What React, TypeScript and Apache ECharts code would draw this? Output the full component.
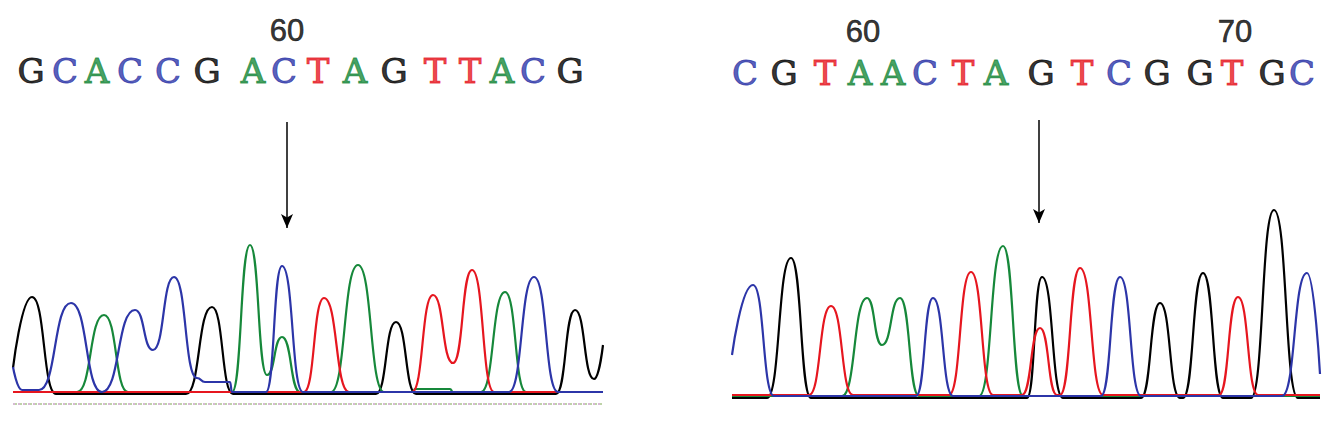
import React, { useEffect, useRef } from 'react';
import * as echarts from 'echarts';

// Base colours used by the sequencer: A green, C blue, G black, T red
const BASE_COLORS: Record<string, string> = {
  A: '#16883a',
  C: '#2c35a8',
  G: '#000000',
  T: '#e6161f',
};

// ---------- Left trace (scan position, signal intensity) ----------
const leftCalls = ['G', 'C', 'A', 'C', 'C', 'G', 'A', 'C', 'T', 'A', 'G', 'T', 'T', 'A', 'C', 'G'];
const leftCallPos = [18, 52, 84, 117, 155, 194, 240, 271, 305, 342, 381, 422, 457, 489, 520, 557];
const leftNumbered = [{ index: 7, label: '60' }];
const leftMutationPos = 274;

const leftG = [[0, 24], [19, 95], [43, -2], [173, -2], [199, 85], [220, -2], [363, -2], [383, 70], [403, -2], [543, -2], [562, 82], [581, 13], [590, 47]];
const leftC = [[0, 25], [9, 2], [26, 2], [58, 89], [89, 0], [122, 82], [140, 42], [161, 115], [184, 14], [192, 10], [217, 10], [219, 0], [253, 0], [269, 126], [290, 0], [496, 0], [521, 115], [545, 0], [590, 0]];
const leftA = [[0, 0], [64, 0], [91, 77], [115, 0], [219, 0], [237, 147], [254, 17], [269, 55], [287, 0], [318, 0], [345, 127], [371, 0], [400, 0], [402, 3], [437, 3], [440, 0], [468, 0], [492, 100], [513, 0], [590, 0]];
const leftT = [[0, 0], [291, 0], [311, 94], [336, 0], [399, 0], [420, 97], [440, 29], [459, 122], [481, 0], [590, 0]];

// ---------- Right trace ----------
const rightCalls = ['C', 'G', 'T', 'A', 'A', 'C', 'T', 'A', 'G', 'T', 'C', 'G', 'G', 'T', 'G', 'C'];
const rightCallPos = [13, 52, 93, 128, 161, 193, 231, 264, 309, 350, 387, 425, 468, 500, 540, 570];
const rightNumbered = [{ index: 3, label: '60' }, { index: 13, label: '70' }];
const rightMutationPos = 307;

const rightG = [[0, -2], [35, -2], [59, 138], [79, -2], [295, -2], [310, 119], [331, -2], [409, -2], [428, 93], [448, -2], [451, -2], [471, 123], [491, -2], [519, -2], [542, 186], [566, -2], [588, -2]];
const rightC = [[0, 41], [21, 111], [42, 0], [184, 0], [201, 98], [221, 0], [369, 0], [388, 119], [409, 0], [550, 0], [575, 123], [588, 22]];
const rightT = [[0, 1], [77, 1], [99, 90], [121, 1], [217, 1], [239, 124], [261, 1], [290, 1], [308, 68], [325, 1], [328, 1], [348, 128], [371, 1], [487, 1], [506, 99], [526, 1], [588, 1]];
const rightA = [[0, 0], [110, 0], [135, 98], [150, 51], [168, 98], [187, 0], [247, 0], [271, 150], [291, 0], [588, 0]];

// Levels (signal units) of the annotation rows
const callLevel = [321, 323];
const numberLevel = [362, 365];
const arrowFrom = [270, 276];
const arrowTo = [164, 173];
const dotLineLevel = -12;

function traceSeries(data: number[][], base: string, idx: number) {
  return {
    type: 'line',
    xAxisIndex: idx,
    yAxisIndex: idx,
    data,
    symbol: 'none',
    smooth: 0.55,
    smoothMonotone: 'x',
    clip: false,
    lineStyle: { color: BASE_COLORS[base], width: 2.2 },
    z: 2,
  };
}

function panelSeries(
  idx: number,
  traces: { G: number[][]; A: number[][]; T: number[][]; C: number[][] },
  calls: string[],
  callPos: number[],
  numbered: { index: number; label: string }[],
  mutationPos: number,
) {
  const list: any[] = [
    traceSeries(traces.G, 'G', idx),
    traceSeries(traces.A, 'A', idx),
    traceSeries(traces.T, 'T', idx),
    traceSeries(traces.C, 'C', idx),
  ];
  list.push({
    type: 'scatter',
    xAxisIndex: idx,
    yAxisIndex: idx,
    symbolSize: 1,
    itemStyle: { color: 'rgba(0,0,0,0)' },
    data: calls.map((b, i) => ({
      name: b,
      value: [callPos[i], callLevel[idx]],
      label: { color: BASE_COLORS[b], textBorderColor: BASE_COLORS[b] },
    })),
    label: {
      show: true,
      position: 'inside',
      formatter: (p: any) => p.name,
      fontFamily: 'DejaVu Serif',
      fontSize: 34,
      fontWeight: 'normal',
      textBorderWidth: 0.9,
    },
    markLine: {
      silent: true,
      symbol: ['none', 'arrow'],
      symbolSize: [9, 14],
      lineStyle: { color: '#000', width: 1.5, type: 'solid' },
      label: { show: false },
      data: [[{ coord: [mutationPos, arrowFrom[idx]] }, { coord: [mutationPos, arrowTo[idx]] }]],
    },
  });
  list.push({
    type: 'scatter',
    xAxisIndex: idx,
    yAxisIndex: idx,
    symbolSize: 1,
    itemStyle: { color: 'rgba(0,0,0,0)' },
    data: numbered.map((n) => ({ name: n.label, value: [callPos[n.index] + 3, numberLevel[idx]] })),
    label: {
      show: true,
      position: 'inside',
      formatter: (p: any) => p.name,
      fontFamily: 'Liberation Sans',
      fontSize: 31,
      color: '#000',
      textBorderColor: '#000',
      textBorderWidth: 0.6,
    },
  });
  return list;
}

export default function App() {
  const ref = useRef<HTMLDivElement>(null);
  useEffect(() => {
    if (!ref.current) return;
    const chart = echarts.init(ref.current, undefined, { renderer: 'svg' });
    const series: any[] = [
      ...panelSeries(0, { G: leftG, A: leftA, T: leftT, C: leftC }, leftCalls, leftCallPos, leftNumbered, leftMutationPos),
      ...panelSeries(1, { G: rightG, A: rightA, T: rightT, C: rightC }, rightCalls, rightCallPos, rightNumbered, rightMutationPos),
      {
        type: 'line',
        xAxisIndex: 0,
        yAxisIndex: 0,
        data: [[0, dotLineLevel], [590, dotLineLevel]],
        symbol: 'none',
        lineStyle: { color: '#c9a3c6', width: 1.5, type: [2, 3] },
      },
      {
        type: 'line',
        xAxisIndex: 0,
        yAxisIndex: 0,
        data: [[0, dotLineLevel], [590, dotLineLevel]],
        symbol: 'none',
        lineStyle: { color: '#a9c58c', width: 1.5, type: [2, 3], dashOffset: 2.5 },
      },
    ];
    chart.setOption({
      animation: false,
      backgroundColor: '#ffffff',
      grid: [
        { left: 13, top: 15, width: 590, height: 393 },
        { left: 732, top: 15, width: 588, height: 393 },
      ],
      xAxis: [
        { type: 'value', gridIndex: 0, min: 0, max: 590, show: false },
        { type: 'value', gridIndex: 1, min: 0, max: 588, show: false },
      ],
      yAxis: [
        { type: 'value', gridIndex: 0, min: -16, max: 377, show: false },
        { type: 'value', gridIndex: 1, min: -12, max: 381, show: false },
      ],
      series,
    });
    return () => chart.dispose();
  }, []);
  return (
    <div
      ref={ref}
      style={{ position: 'fixed', left: 0, top: 0, width: 1344, height: 424, background: '#fff' }}
    />
  );
}
